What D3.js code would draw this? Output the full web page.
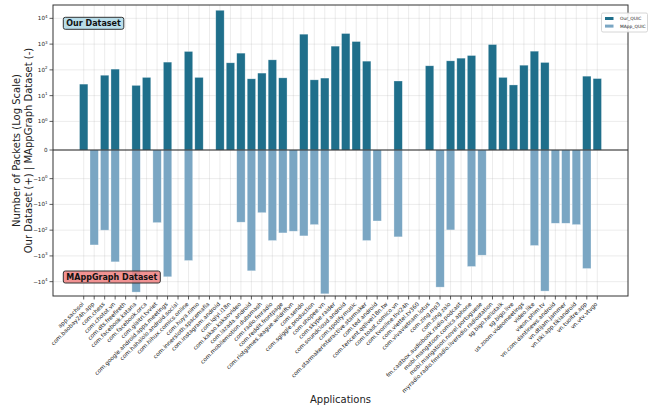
<!DOCTYPE html>
<html>
<head>
<meta charset="utf-8">
<script src="https://cdn.jsdelivr.net/npm/d3@7"></script>
<style>
  html, body { margin: 0; padding: 0; background: #fff; }
  svg { display: block; font-family: "DejaVu Sans", sans-serif; }
</style>
</head>
<body>
<svg id="chart" width="665" height="409"></svg>
<script>
// ---------------- data ----------------
const apps = [
  "app.sachsoi", "com.baobay24h.app", "com.chess", "com.chotot.vn", "com.dts.freefireth",
  "com.facebook.katana", "com.facebook.orca", "com.giaitri.tvviet", "com.google.android.apps.meetings", "com.hahalolo.android.social",
  "com.hihux.comics.online", "com.huya.nimo", "com.innersloth.spacemafia", "com.instagram.android", "com.iqiyi.i18n",
  "com.kakao.kakaovideo", "com.lazada.android", "com.mobilemotion.dubsmash", "com.radio.fmradio", "com.reddit.frontpage",
  "com.riotgames.league.wildriftvn", "com.sendo", "com.sgiggle.production", "com.shopee.vn", "com.skype.raider",
  "com.soundcloud.android", "com.spotify.music", "com.starmakerinteractive.starmaker", "com.ted.android", "com.tencent.qqlivei18n.tw",
  "com.toast.comico.vn", "com.tvonline.tivi24h", "com.viettel.tv360", "com.vivavietnam.lotus", "com.zing.mp3",
  "com.zing.zalo", "fm.castbox.audiobook.radio.podcast", "mobi.mangatoon.comics.aphone", "mobi.mangatoon.novel.portuguese", "myradio.radio.fmradio.liveradio.radiostation",
  "sg.bigo.hellotalk", "sg.bigo.live", "us.zoom.videomeetings", "video.like", "vieon.phim.tv",
  "vn.com.dantinews.android", "vn.dtijam.jammer", "vn.tiki.app.tikiandroid", "vn.tuoitre.app", "vn.vtv.vtvgo"
];
// Our dataset (plotted upward)
const ourQuic = [
  28, 0, 62, 107, 0, 25, 51, 0, 200, 0,
  519, 51, 0, 20600, 188, 446, 45, 75, 245, 49,
  0, 2430, 41, 48, 834, 2580, 1260, 218, 0, 0,
  37, 0, 0, 144, 0, 224, 285, 361, 0, 964,
  51, 26, 152, 532, 194, 0, 0, 0, 57, 46
];
// MAppGraph dataset (plotted downward)
const mappQuic = [
  0, 375, 100, 1700, 0, 25400, 0, 51, 6460, 0,
  1510, 0, 0, 0, 0, 49, 3790, 21, 253, 128,
  110, 167, 61, 29600, 0, 0, 0, 253, 44, 0,
  182, 0, 0, 0, 16300, 98, 0, 2580, 937, 0,
  0, 0, 0, 395, 23200, 54, 54, 61, 3090, 0
];
const seriesNames = ["Our_QUIC", "MApp_QUIC"];
const yTicks = [-1e4, -1e3, -1e2, -1e1, -1, 0, 1, 1e1, 1e2, 1e3, 1e4];
const yLimits = [-36000, 33000];

// ---------------- layout ----------------
const W = 665, H = 409;
const plot = { left: 53, right: 628, top: 5, bottom: 296 };
const colOur = "#1f6f8b", colMapp = "#7aa6c3";

// matplotlib-style symlog (linthresh=1, linscale=1, base 10)
const K = 1 / (1 - 1 / 10);
function symlog(v) {
  const a = Math.abs(v);
  const t = a <= 1 ? a * K : K + Math.log10(a);
  return v < 0 ? -t : t;
}

const svg = d3.select("#chart");

const x = d3.scaleBand()
  .domain(apps)
  .range([plot.left, plot.right])
  .paddingInner(0.2)
  .paddingOuter(2.53);

const yLin = d3.scaleLinear()
  .domain([symlog(yLimits[0]), symlog(yLimits[1])])
  .range([plot.bottom, plot.top]);
const y = v => yLin(symlog(v));

// grid
const g = svg.append("g");
g.selectAll("line.vg").data(apps).enter().append("line")
  .attr("x1", d => x(d) + x.bandwidth() / 2).attr("x2", d => x(d) + x.bandwidth() / 2)
  .attr("y1", plot.top).attr("y2", plot.bottom)
  .attr("stroke", "#b0b0b0").attr("stroke-opacity", 0.3).attr("stroke-width", 0.8);
g.selectAll("line.hg").data(yTicks).enter().append("line")
  .attr("x1", plot.left).attr("x2", plot.right)
  .attr("y1", d => y(d)).attr("y2", d => y(d))
  .attr("stroke", "#b0b0b0").attr("stroke-opacity", 0.3).attr("stroke-width", 0.8);

// bars
const bars = svg.append("g");
bars.selectAll("rect.our").data(apps.map((a, i) => ({ a, v: ourQuic[i] })).filter(d => d.v > 0))
  .enter().append("rect")
  .attr("x", d => x(d.a)).attr("width", x.bandwidth())
  .attr("y", d => y(d.v)).attr("height", d => y(0) - y(d.v))
  .attr("fill", colOur).attr("stroke", "#ffffff").attr("stroke-opacity", 0.5).attr("stroke-width", 0.6);
bars.selectAll("rect.mapp").data(apps.map((a, i) => ({ a, v: mappQuic[i] })).filter(d => d.v > 0))
  .enter().append("rect")
  .attr("x", d => x(d.a)).attr("width", x.bandwidth())
  .attr("y", y(0)).attr("height", d => y(-d.v) - y(0))
  .attr("fill", colMapp).attr("stroke", "#ffffff").attr("stroke-opacity", 0.5).attr("stroke-width", 0.6);

// zero line
svg.append("line")
  .attr("x1", plot.left).attr("x2", plot.right)
  .attr("y1", y(0)).attr("y2", y(0))
  .attr("stroke", "#222").attr("stroke-width", 1);

// frame
svg.append("rect")
  .attr("x", plot.left).attr("y", plot.top)
  .attr("width", plot.right - plot.left).attr("height", plot.bottom - plot.top)
  .attr("fill", "none").attr("stroke", "#333").attr("stroke-width", 1);

// x ticks + labels
const xt = svg.append("g");
apps.forEach(a => {
  const cx = x(a) + x.bandwidth() / 2;
  xt.append("line").attr("x1", cx).attr("x2", cx).attr("y1", plot.bottom).attr("y2", plot.bottom + 3.5)
    .attr("stroke", "#333").attr("stroke-width", 0.8);
  xt.append("text")
    .attr("transform", `translate(${cx + 0.5},${plot.bottom + 8.5}) rotate(-45)`)
    .attr("text-anchor", "end")
    .attr("font-size", 5.7)
    .attr("fill", "#222")
    .text(a);
});

// y ticks + labels
const yt = svg.append("g");
yTicks.forEach(v => {
  const py = y(v);
  yt.append("line").attr("x1", plot.left - 3.5).attr("x2", plot.left).attr("y1", py).attr("y2", py)
    .attr("stroke", "#333").attr("stroke-width", 0.8);
  const t = yt.append("text")
    .attr("x", plot.left - 5.5).attr("y", py + 2)
    .attr("text-anchor", "end").attr("font-size", 5.6).attr("fill", "#222");
  if (v === 0) {
    t.text("0");
  } else {
    const e = Math.round(Math.log10(Math.abs(v)));
    t.append("tspan").text((v < 0 ? "\u2212" : "") + "10");
    t.append("tspan").attr("dy", -2.5).attr("font-size", 4).text(String(e));
  }
});

// axis titles
svg.append("text")
  .attr("transform", `translate(20,${(plot.top + plot.bottom) / 2}) rotate(-90)`)
  .attr("text-anchor", "middle").attr("font-size", 10).attr("fill", "#222")
  .text("Number of Packets (Log Scale)");
svg.append("text")
  .attr("transform", `translate(32,${(plot.top + plot.bottom) / 2}) rotate(-90)`)
  .attr("text-anchor", "middle").attr("font-size", 10).attr("fill", "#222")
  .text("Our Dataset (+) | MAppGraph Dataset (-)");
svg.append("text")
  .attr("x", (plot.left + plot.right) / 2).attr("y", 403)
  .attr("text-anchor", "middle").attr("font-size", 10).attr("fill", "#222")
  .text("Applications");

// annotation boxes
function tagBox(label, x0, yc, fill) {
  const t = svg.append("text")
    .attr("x", x0 + 3).attr("y", yc + 2.9)
    .attr("font-size", 8).attr("font-weight", "bold").attr("fill", "#111")
    .text(label);
  const w = t.node().getComputedTextLength();
  svg.insert("rect", () => t.node())
    .attr("x", x0).attr("y", yc - 6).attr("width", w + 6).attr("height", 12)
    .attr("rx", 2).attr("ry", 2)
    .attr("fill", fill).attr("fill-opacity", 0.85)
    .attr("stroke", "#333").attr("stroke-width", 1);
}
tagBox("Our Dataset", 63.3, 23.3, "#add8e6");
tagBox("MAppGraph Dataset", 63.3, 277, "#f08080");

// legend
const lg = svg.append("g");
lg.append("rect").attr("x", 601.5).attr("y", 13).attr("width", 46).attr("height", 19)
  .attr("rx", 1.5).attr("fill", "#fff").attr("fill-opacity", 0.9)
  .attr("stroke", "#cccccc").attr("stroke-width", 0.8);
[colOur, colMapp].forEach((c, i) => {
  const ry = 18.5 + i * 7.6;
  lg.append("rect").attr("x", 605).attr("y", ry - 1.5).attr("width", 8.5).attr("height", 3).attr("fill", c);
  lg.append("text").attr("x", 620).attr("y", ry + 1.5).attr("font-size", 4.4).attr("fill", "#222").text(seriesNames[i]);
});
</script>
</body>
</html>
